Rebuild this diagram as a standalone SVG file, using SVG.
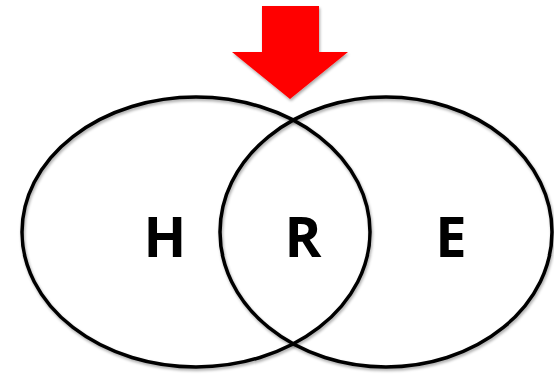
<svg xmlns="http://www.w3.org/2000/svg" width="554" height="375" viewBox="0 0 554 375">
<defs>
<filter id="sh" x="-10%" y="-10%" width="120%" height="120%">
<feGaussianBlur in="SourceAlpha" stdDeviation="1.5"/>
<feOffset dx="1" dy="2" result="b"/>
<feComponentTransfer><feFuncA type="linear" slope="0.35"/></feComponentTransfer>
<feMerge><feMergeNode/><feMergeNode in="SourceGraphic"/></feMerge>
</filter>
</defs>
<style>
.set{fill:none;stroke:#000;stroke-width:3.5}
.lbl{font-family:"Open Sans","Liberation Sans",sans-serif;font-weight:bold;font-size:56px;fill:#000;text-anchor:middle}
</style>
<rect width="554" height="375" fill="#fff"/>
<g id="left-set" filter="url(#sh)"><ellipse class="set" cx="196" cy="232" rx="174" ry="135"/></g>
<g id="right-set" filter="url(#sh)"><ellipse class="set" cx="386" cy="232" rx="166" ry="135"/></g>
<g id="arrow" filter="url(#sh)"><polygon points="262,6 319,6 319,52 348,52 290,99 232,52 262,52" fill="#ff0000"/></g>
<g id="labels">
<text class="lbl" x="165" y="257">H</text>
<text class="lbl" x="303" y="257">R</text>
<text class="lbl" x="451" y="257">E</text>
</g>
</svg>
